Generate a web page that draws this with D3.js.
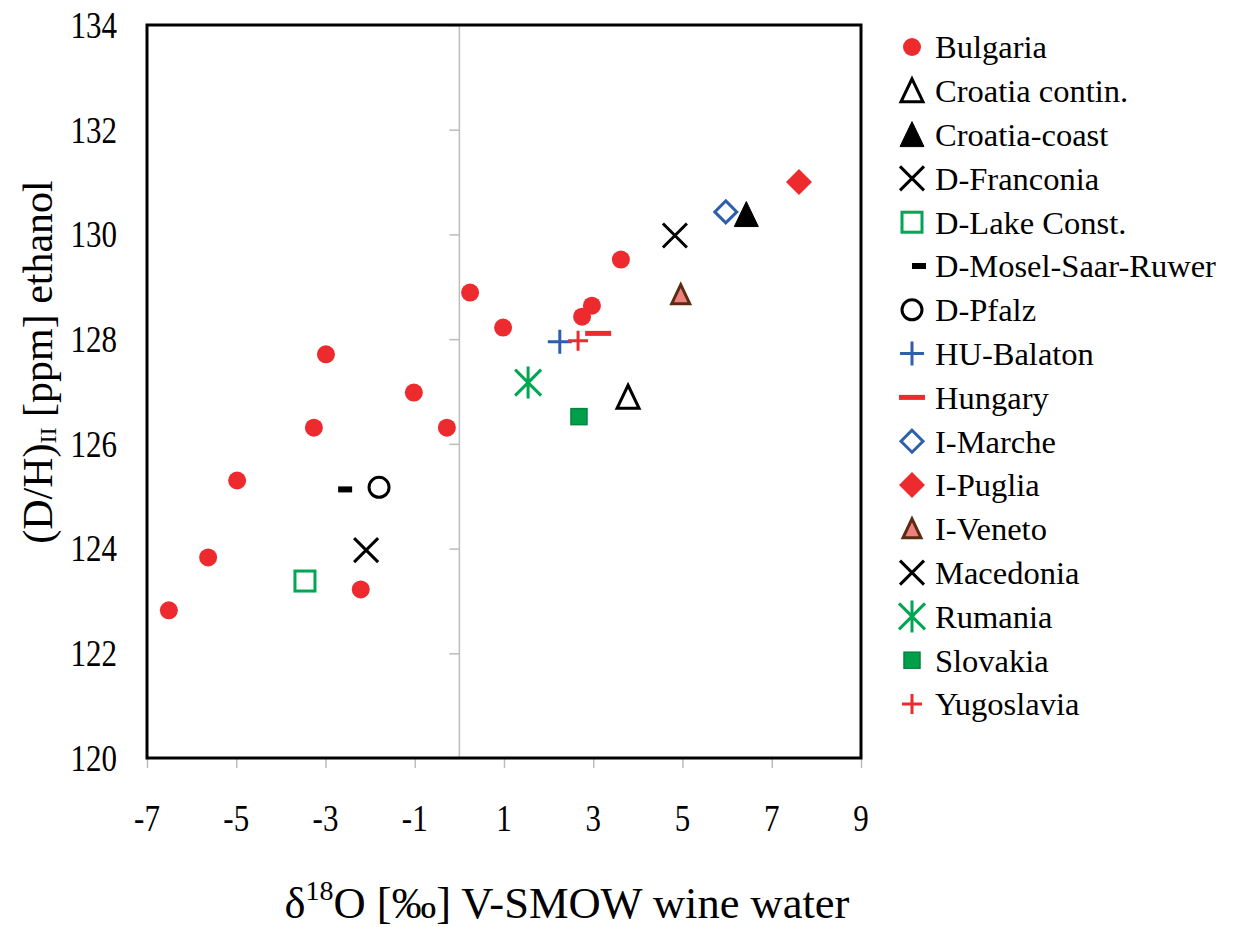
<!DOCTYPE html>
<html>
<head>
<meta charset="utf-8">
<script src="https://cdn.jsdelivr.net/npm/d3@7"></script>
<style>
  html, body { margin: 0; padding: 0; background: #fff; }
  svg { display: block; font-family: "Liberation Serif", "Times New Roman", serif; }
</style>
</head>
<body>
<svg id="chart" width="1251" height="927"></svg>
<script>
// ---------- data ----------
const seriesNames = ["Bulgaria", "Croatia contin.", "Croatia-coast", "D-Franconia", "D-Lake Const.",
  "D-Mosel-Saar-Ruwer", "D-Pfalz", "HU-Balaton", "Hungary", "I-Marche", "I-Puglia", "I-Veneto",
  "Macedonia", "Rumania", "Slovakia", "Yugoslavia"];
const markerTypes = ["dotRed", "triOpen", "triFilled", "cross", "squareOpen", "dashBlack", "circleOpen",
  "plusBlue", "dashRed", "diamondOpen", "diamondFilled", "triVeneto", "cross", "asterisk", "squareFilled", "plusRed"];
const seriesX = [
  [-6.51, -5.63, -4.98, -3.26, -2.99, -2.21, -1.02, -0.28, 0.24, 0.98, 2.75, 2.97, 3.62],
  [3.78], [6.43], [4.83], [-3.46], [-2.56], [-1.80], [2.25], [3.11], [5.97], [7.61], [4.96],
  [-2.09], [1.54], [2.68], [2.66]
];
const seriesY = [
  [122.82, 123.83, 125.30, 126.31, 127.71, 123.22, 126.98, 126.31, 128.89, 128.22, 128.43, 128.64, 129.52],
  [126.89], [130.38], [129.98], [123.38], [125.13], [125.17], [127.95], [128.11], [130.43], [131.0], [128.85],
  [123.97], [127.17], [126.52], [127.97]
];
const xTicks = [-7, -5, -3, -1, 1, 3, 5, 7, 9];
const yTicks = [120, 122, 124, 126, 128, 130, 132, 134];

// ---------- layout ----------
const svg = d3.select("#chart");
const L = 147, R = 861, T = 25, B = 758;
const x = d3.scaleLinear().domain([-7, 9]).range([L, R]);
const y = d3.scaleLinear().domain([120, 134]).range([B, T]);
const STRETCH = 1.22; // tick labels are tall in the reference

const RED = "#ED2B2F", GREEN = "#00A651", BLUE = "#2E5FAA";

function drawMarker(g, type, cx, cy) {
  const m = g.append("g").attr("transform", `translate(${cx},${cy})`);
  const tri = (h) => { const w = h * 1.0; return `M0,${-h/2 - 1}L${w/2},${h/2}L${-w/2},${h/2}Z`; };
  switch (type) {
    case "dotRed":
      m.append("circle").attr("r", 9).attr("fill", RED); break;
    case "triOpen":
      m.append("path").attr("d", tri(22)).attr("fill", "#fff").attr("stroke", "#000").attr("stroke-width", 3).attr("stroke-linejoin", "miter"); break;
    case "triFilled":
      m.append("path").attr("d", tri(24)).attr("fill", "#000").attr("stroke", "#000").attr("stroke-width", 1); break;
    case "cross":
      m.append("path").attr("d", "M-12,-12L12,12M12,-12L-12,12").attr("stroke", "#000").attr("stroke-width", 3).attr("fill", "none"); break;
    case "squareOpen":
      m.append("rect").attr("x", -10).attr("y", -10).attr("width", 20).attr("height", 20).attr("fill", "#fff").attr("stroke", GREEN).attr("stroke-width", 3); break;
    case "dashBlack":
      m.append("rect").attr("x", -7).attr("y", -3).attr("width", 14).attr("height", 6).attr("fill", "#000"); break;
    case "circleOpen":
      m.append("circle").attr("r", 10).attr("fill", "#fff").attr("stroke", "#000").attr("stroke-width", 3); break;
    case "plusBlue":
      m.append("path").attr("d", "M-12,0L12,0M0,-12L0,12").attr("stroke", BLUE).attr("stroke-width", 3); break;
    case "dashRed":
      m.append("rect").attr("x", -13).attr("y", -2.5).attr("width", 26).attr("height", 5).attr("fill", RED); break;
    case "diamondOpen":
      m.append("path").attr("d", "M0,-11L11,0L0,11L-11,0Z").attr("fill", "#fff").attr("stroke", BLUE).attr("stroke-width", 3); break;
    case "diamondFilled":
      m.append("path").attr("d", "M0,-13L13,0L0,13L-13,0Z").attr("fill", RED); break;
    case "triVeneto":
      m.append("path").attr("d", tri(18)).attr("fill", "#F08080").attr("stroke", "#5B2C0F").attr("stroke-width", 3); break;
    case "asterisk":
      m.append("path").attr("d", "M0,-16L0,16M-13,-13L13,13M13,-13L-13,13").attr("stroke", GREEN).attr("stroke-width", 3); break;
    case "squareFilled":
      m.append("rect").attr("x", -8).attr("y", -8).attr("width", 16).attr("height", 16).attr("fill", "#00A04A").attr("stroke", "#00853E").attr("stroke-width", 1.5); break;
    case "plusRed":
      m.append("path").attr("d", "M-10,0L10,0M0,-10L0,10").attr("stroke", RED).attr("stroke-width", 3); break;
  }
}

// zero vertical axis line (gray) with ticks
svg.append("line").attr("x1", x(0)).attr("x2", x(0)).attr("y1", T).attr("y2", B)
  .attr("stroke", "#bdbdbd").attr("stroke-width", 1.5);
const yTickAxis = d3.axisLeft(y).tickValues(yTicks).tickSize(10).tickFormat("");
svg.append("g").attr("transform", `translate(${x(0)},0)`).call(yTickAxis)
  .call(g => g.select(".domain").remove())
  .call(g => g.selectAll("line").attr("stroke", "#bdbdbd").attr("stroke-width", 1.5));

// y tick labels at left
svg.append("g").selectAll("text").data(yTicks).join("text")
  .attr("transform", d => `translate(117,${y(d)}) scale(1,${STRETCH})`)
  .attr("text-anchor", "end").attr("dy", "0.34em")
  .attr("font-size", 31).attr("fill", "#000")
  .text(d => String(d));

// x axis ticks
const xAxis = d3.axisBottom(x).tickValues(xTicks).tickSize(10).tickFormat("");
svg.append("g").attr("transform", `translate(0,${B})`).call(xAxis)
  .call(g => g.select(".domain").remove())
  .call(g => g.selectAll("line").attr("stroke", "#bdbdbd").attr("stroke-width", 1.5));
// x tick labels
svg.append("g").selectAll("text").data(xTicks).join("text")
  .attr("transform", d => `translate(${x(d)},818) scale(1,${STRETCH})`)
  .attr("text-anchor", "middle").attr("dy", "0.34em")
  .attr("font-size", 31).attr("fill", "#000")
  .text(d => String(d));

// frame
svg.append("rect").attr("x", L).attr("y", T).attr("width", R - L).attr("height", B - T)
  .attr("fill", "none").attr("stroke", "#000").attr("stroke-width", 3);

// points
const pg = svg.append("g");
seriesNames.forEach((name, i) => {
  seriesX[i].forEach((xv, j) => drawMarker(pg, markerTypes[i], x(xv), y(seriesY[i][j])));
});

// legend
const lg = svg.append("g");
const legTop = 47, legStep = 43.8;
seriesNames.forEach((name, i) => {
  const cy = legTop + i * legStep;
  let mx = 912;
  if (markerTypes[i] === "dashBlack") mx = 919;
  drawMarker(lg, markerTypes[i], mx, cy);
  lg.append("text").attr("x", 935).attr("y", cy).attr("dy", "0.35em")
    .attr("font-size", 32.5).attr("fill", "#000").text(name);
});

// axis titles
const xt = svg.append("text").attr("x", 567).attr("y", 918).attr("text-anchor", "middle")
  .attr("font-size", 44.5).attr("fill", "#000");
xt.append("tspan").text("δ");
xt.append("tspan").attr("font-size", 28).attr("dy", -18).text("18");
xt.append("tspan").attr("dy", 18).text("O [‰] V-SMOW wine water");

const yt = svg.append("text").attr("transform", "translate(52,362) rotate(-90)")
  .attr("text-anchor", "middle").attr("font-size", 42).attr("fill", "#000");
yt.append("tspan").text("(D/H)");
yt.append("tspan").attr("font-size", 24).attr("dy", 4).text("II");
yt.append("tspan").attr("dy", -4).text(" [ppm] ethanol");
</script>
</body>
</html>
